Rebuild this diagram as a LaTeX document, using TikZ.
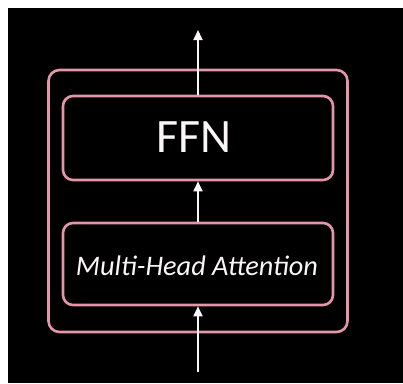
\documentclass[tikz,border=0pt]{standalone}
\usepackage{fontspec}
\setmainfont{Carlito}
\usetikzlibrary{arrows.meta}
\definecolor{pinkline}{RGB}{228,150,168}
\definecolor{txt}{RGB}{250,246,248}
\tikzset{
  blockbox/.style={draw=pinkline, line width=2.6pt, rounded corners=10pt, minimum width=270pt, inner sep=0pt},
  outerbox/.style={draw=pinkline, line width=2.6pt, rounded corners=11pt, minimum width=299pt, minimum height=262pt, inner sep=0pt},
  flow/.style={draw=txt, line width=1.8pt, -{Triangle[width=9pt,length=10pt]}}
}
\begin{document}
\begin{tikzpicture}[x=1pt,y=-1pt]
\useasboundingbox (0,0) rectangle (403,383);
\fill[white] (0,0) rectangle (403,383);
\fill[black] (8,8) rectangle (403,383);
\node[outerbox] (outer) at (198,201) {};
\node[blockbox, minimum height=84pt] (ffn) at (198,138) {};
\node[blockbox, minimum height=82pt] (mha) at (198,264) {};
\node[text=txt, font=\fontsize{48}{50}\selectfont] (ffnt) at (194,137) {FFN};
\node[text=txt, inner sep=0pt] (mhat) at (197,266) {\resizebox{242pt}{!}{\itshape Multi-Head Attention}};
\coordinate (in) at (198,372);
\coordinate (out) at (198,30);
\draw[flow] (in) -- (mha.south);
\draw[flow] (mha.north) -- (ffn.south);
\draw[flow] (ffn.north) -- (out);
\end{tikzpicture}
\end{document}
